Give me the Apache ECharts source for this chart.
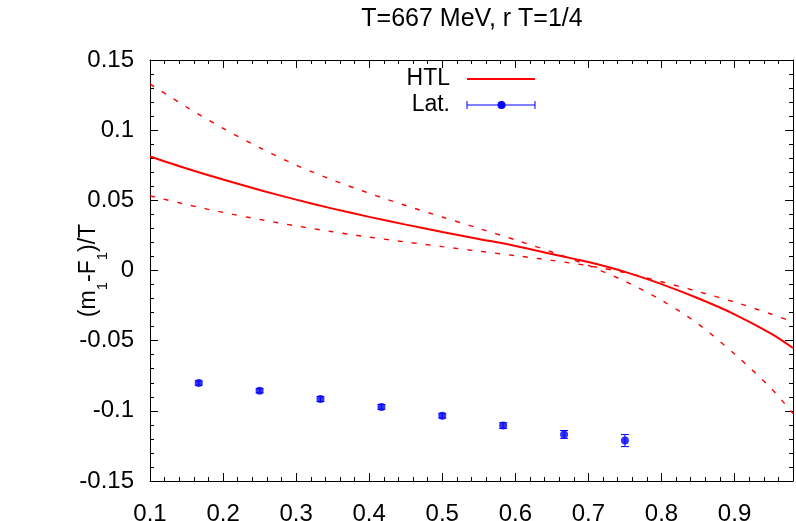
<!DOCTYPE html>
<html>
<head>
<meta charset="utf-8">
<script src="https://cdn.jsdelivr.net/npm/echarts@6/dist/echarts.min.js"></script>
<style>html,body{margin:0;padding:0;background:#fff}#c{width:796px;height:521px}</style>
</head>
<body>
<div id="c"></div>
<script>
// ---- data ----
const htlX = [0.10, 0.15, 0.20, 0.25, 0.30, 0.35, 0.40, 0.45, 0.50, 0.55, 0.60, 0.65, 0.70, 0.75, 0.80, 0.85, 0.90, 0.95, 0.98];
const htlMid = [0.0812, 0.0727, 0.0648, 0.0574, 0.0505, 0.0441, 0.0382, 0.0327, 0.0275, 0.0225, 0.0175, 0.0118, 0.0060, -0.0010, -0.0097, -0.0198, -0.0312, -0.0450, -0.0552];
const htlBandA = [0.1330, 0.1165, 0.1013, 0.0875, 0.0751, 0.0645, 0.0550, 0.0463, 0.0381, 0.0300, 0.0218, 0.0132, 0.0036, -0.0077, -0.0212, -0.0380, -0.0595, -0.0840, -0.1020];
const htlBandB = [0.0532, 0.0470, 0.0414, 0.0364, 0.0318, 0.0276, 0.0238, 0.0203, 0.0170, 0.0138, 0.0106, 0.0072, 0.0034, -0.0015, -0.0080, -0.0150, -0.0225, -0.0310, -0.0368];
const latX = [0.1667, 0.25, 0.3333, 0.4167, 0.5, 0.5833, 0.6667, 0.75];
const latY = [-0.0802, -0.0857, -0.0916, -0.0972, -0.1035, -0.1105, -0.1168, -0.1212];
const latErr = [0.0015, 0.0015, 0.0017, 0.0017, 0.0017, 0.0020, 0.0028, 0.0043];
const xTicks = [0.1, 0.2, 0.3, 0.4, 0.5, 0.6, 0.7, 0.8, 0.9];
const yTicks = [-0.15, -0.1, -0.05, 0, 0.05, 0.1, 0.15];
const titleText = 'T=667 MeV, r T=1/4';
const legendNames = ['HTL', 'Lat.'];

// ---- chart ----
const FONT = 'Liberation Sans';
const FS = 24;
const X_MIN = 0.1, X_MAX = 0.98, Y_MIN = -0.15, Y_MAX = 0.15;
const chart = echarts.init(document.getElementById('c'), null, {renderer: 'canvas', width: 796, height: 521});
const pairs = (xs, ys) => xs.map((x, i) => [x, ys[i]]);
const near = (a, b) => Math.abs(a - b) < 1e-6;

const black = {color: '#000', width: 1};
const red = '#ff0000', blue = '#0000ff';
const xAxisOf = (position, interval, len, withLine, withLabel) => ({
  type: 'value', min: X_MIN, max: X_MAX, interval: interval, position: position, splitLine: {show: false},
  axisLine: {show: withLine, onZero: false, lineStyle: black},
  axisTick: {show: true, inside: true, length: len, lineStyle: black},
  axisLabel: withLabel ? {show: true, margin: 21, fontFamily: FONT, fontSize: FS, color: '#000',
    formatter: v => xTicks.some(t => near(t, v)) ? (Math.round(v * 10) / 10).toFixed(1) : ''} : {show: false}
});
const yAxisOf = (position, withLabel) => Object.assign({
  type: 'value', min: Y_MIN, max: Y_MAX, interval: 0.05, position: position, splitLine: {show: false},
  axisLine: {show: true, onZero: false, lineStyle: black},
  axisTick: {show: true, inside: true, length: 8, lineStyle: black},
  minorTick: {show: true, splitNumber: 5, length: 4, lineStyle: black},
  axisLabel: withLabel ? {show: true, margin: 16, fontFamily: FONT, fontSize: FS, color: '#000',
    formatter: v => {
      const t = yTicks.find(q => near(q, v));
      return t === undefined ? '' : String(t);
    }} : {show: false}
}, withLabel ? {
  name: '(m{s|1}-F{s|1})/T', nameLocation: 'middle', nameGap: 50, nameMoveOverlap: false,
  nameTextStyle: {fontFamily: FONT, fontSize: 23, color: '#000',
    rich: {s: {fontFamily: FONT, fontSize: 15, color: '#000', verticalAlign: 'bottom', padding: [0, 0, -10, 0]}}}
} : {});

const option = {
  animation: false,
  backgroundColor: '#fff',
  grid: {left: 150, right: 3, top: 60, bottom: 40, containLabel: false, outerBoundsMode: 'none'},
  xAxis: [
    xAxisOf('bottom', 0.1, 8, true, true),
    xAxisOf('bottom', 0.02, 4, false, false),
    xAxisOf('top', 0.1, 8, true, false),
    xAxisOf('top', 0.02, 4, false, false)
  ],
  yAxis: [yAxisOf('left', true), yAxisOf('right', false)],
  series: [
    {name: legendNames[0], type: 'line', data: pairs(htlX, htlMid), smooth: 0.3, symbol: 'none',
      lineStyle: {color: red, width: 2}, z: 3},
    {type: 'line', data: pairs(htlX, htlBandA), smooth: 0.3, symbol: 'none',
      lineStyle: {color: red, width: 1.4, type: [5, 9]}, z: 2},
    {type: 'line', data: pairs(htlX, htlBandB), smooth: 0.3, symbol: 'none',
      lineStyle: {color: red, width: 1.4, type: [5, 9]}, z: 2},
    {type: 'custom', data: latX.map((x, i) => [x, latY[i] - latErr[i], latY[i] + latErr[i]]),
      encode: {x: 0, y: [1, 2]}, z: 4,
      renderItem: (params, api) => {
        const x = api.value(0);
        const lo = api.coord([x, api.value(1)]);
        const hi = api.coord([x, api.value(2)]);
        const st = {stroke: blue, lineWidth: 1};
        return {type: 'group', children: [
          {type: 'line', shape: {x1: lo[0], y1: lo[1], x2: hi[0], y2: hi[1]}, style: st},
          {type: 'line', shape: {x1: lo[0] - 4, y1: lo[1], x2: lo[0] + 4, y2: lo[1]}, style: st},
          {type: 'line', shape: {x1: hi[0] - 4, y1: hi[1], x2: hi[0] + 4, y2: hi[1]}, style: st}
        ]};
      }},
    {name: legendNames[1], type: 'scatter', data: pairs(latX, latY), symbol: 'circle', symbolSize: 8,
      itemStyle: {color: blue}, z: 5}
  ],
  graphic: [
    {type: 'text', x: 472, y: 19, style: {text: titleText, fontFamily: FONT, fontSize: 25,
      fill: '#000', align: 'center', verticalAlign: 'middle'}},
    {type: 'text', x: 450, y: 79, style: {text: legendNames[0], fontFamily: FONT, fontSize: 23,
      fill: '#000', align: 'right', verticalAlign: 'middle'}},
    {type: 'line', shape: {x1: 467, y1: 79, x2: 535, y2: 79}, style: {stroke: red, lineWidth: 2}},
    {type: 'text', x: 450, y: 105, style: {text: legendNames[1], fontFamily: FONT, fontSize: 23,
      fill: '#000', align: 'right', verticalAlign: 'middle'}},
    {type: 'line', shape: {x1: 467, y1: 105, x2: 535, y2: 105}, style: {stroke: blue, lineWidth: 1}},
    {type: 'line', shape: {x1: 467, y1: 101, x2: 467, y2: 109}, style: {stroke: blue, lineWidth: 1}},
    {type: 'line', shape: {x1: 535, y1: 101, x2: 535, y2: 109}, style: {stroke: blue, lineWidth: 1}},
    {type: 'circle', shape: {cx: 501.5, cy: 105, r: 4}, style: {fill: blue}}
  ]
};
chart.setOption(option);
</script>
</body>
</html>
